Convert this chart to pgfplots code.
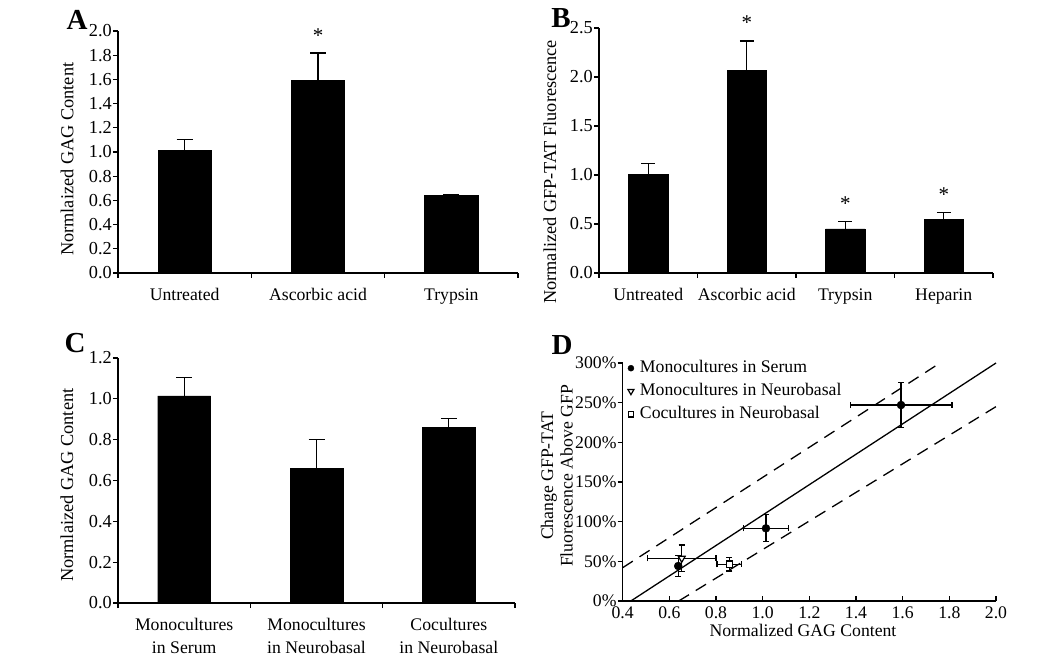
\documentclass[border=0pt]{standalone}
\usepackage{fontspec}
\setmainfont{Liberation Serif}
\usepackage{pgfplots}
\pgfplotsset{compat=1.18}
\usepackage{pgfplotstable}

\newcommand\fs{\fontsize{17.7}{23}\selectfont}
\newcommand\fl{\fontsize{18.3}{23}\selectfont}

\pgfplotstableread{
x y e
0 1.012 0.094
1 1.593 0.225
2 0.641 0.011
}\dataA
\pgfplotstableread{
x y e
0 1.006 0.113
1 2.067 0.300
2 0.450 0.072
3 0.546 0.071
}\dataB
\pgfplotstableread{
x y e
0 1.015 0.088
1 0.658 0.141
2 0.861 0.044
}\dataC
\pgfplotstableread{
x y ex ey
0.638 44.1 0.010 13.5
1.014 91.6 0.097 17.0
1.593 247.0 0.218 28.5
}\dataDa
\pgfplotstableread{
x y ex ey
0.653 53.8 0.147 16.8
}\dataDb
\pgfplotstableread{
x y ex ey
0.857 46.3 0.053 8.5
}\dataDc

\pgfplotsset{
  base/.style={
    scale only axis, anchor=south west, axis lines*=left,
    axis line style={line width=1.2pt},
    tick style={line width=1.2pt, black},
    tick label style={font=\fs},
    label style={font=\fl},
    /pgf/number format/assume math mode=true,
    clip=false,
  },
  bars/.style={
    base, ymin=0, tick align=outside,
    major tick length=5pt, minor tick length=5pt,
    every major x tick/.append style={draw=none},
    xtick={0,1,2,3}, minor xtick={-0.5,0.5,1.5,2.5,3.5},
    yticklabel style={/pgf/number format/fixed, /pgf/number format/fixed zerofill, /pgf/number format/precision=1, inner xsep=1pt, font=\fontsize{18.3}{22}\selectfont},
    xticklabel style={align=center, yshift=-7pt},
  },
  barplot/.style={ybar, bar width=0.4, fill=black, draw=black,
    error bars/.cd, y dir=plus, y explicit,
    error bar style={line width=1.2pt},
    error mark options={rotate=90, mark size=8pt, line width=1.2pt}},
}

\begin{document}
\begin{tikzpicture}
\path[use as bounding box] (0pt,0pt) rectangle (1050pt,659pt);

% Panel A
\begin{axis}[bars, at={(118pt,386pt)}, width=400pt, height=242pt,
  xmin=-0.5, xmax=2.5, ymax=2.0, ytick={0,0.2,...,2.0},
  xticklabels={Untreated, Ascorbic acid, Trypsin},
  ylabel={Normlaized GAG Content},
  ylabel style={at={(axis description cs:-0.1275,0.47)}, anchor=center}]
\addplot[barplot] table[x=x, y=y, y error=e]{\dataA};
\node[font=\fontsize{21}{21}\selectfont] at (axis cs:1,1.96) {*};
\end{axis}

% Panel B
\begin{axis}[bars, at={(599pt,386pt)}, width=394pt, height=245pt,
  xmin=-0.5, xmax=3.5, ymax=2.5, ytick={0,0.5,...,2.5},
  xticklabels={Untreated, Ascorbic acid, Trypsin, Heparin},
  ylabel={Normalized GFP-TAT Fluorescence},
  ylabel style={at={(axis description cs:-0.1244,0.413)}, anchor=center}]
\addplot[barplot, error mark options={rotate=90, mark size=7pt, line width=1.2pt}] table[x=x, y=y, y error=e]{\dataB};
\node[font=\fontsize{21}{21}\selectfont] at (axis cs:1,2.55) {*};
\node[font=\fontsize{21}{21}\selectfont] at (axis cs:2,0.71) {*};
\node[font=\fontsize{21}{21}\selectfont] at (axis cs:3,0.80) {*};
\end{axis}

% Panel C
\begin{axis}[bars, at={(118pt,56pt)}, width=397pt, height=245pt,
  xmin=-0.5, xmax=2.5, ymax=1.2, ytick={0,0.2,...,1.2},
  xticklabels={Monocultures\\in Serum, Monocultures\\in Neurobasal, Cocultures\\in Neurobasal},
  ylabel={Normlaized GAG Content},
  ylabel style={at={(axis description cs:-0.1285,0.481)}, anchor=center}]
\addplot[barplot] table[x=x, y=y, y error=e]{\dataC};
\end{axis}

% Panel D
\begin{axis}[base, at={(622.7pt,58pt)}, width=373.3pt, height=238pt,
  xmin=0.4, xmax=2.0, ymin=0, ymax=300,
  xtick={0.4,0.6,...,2.0}, ytick={0,50,...,300},
  xtick align=inside, ytick align=outside, major tick length=5pt,
  xticklabel style={/pgf/number format/fixed, /pgf/number format/fixed zerofill, /pgf/number format/precision=1, yshift=-2pt},
  yticklabel={\pgfmathprintnumber{\tick}\%},
  yticklabel style={inner xsep=1pt},
  xlabel={Normalized GAG Content},
  xlabel style={at={(axis description cs:0.483,0)}, yshift=-29pt, anchor=center, font=\fs},
  ylabel={Change GFP-TAT\\Fluorescence Above GFP},
  ylabel style={align=center, at={(axis description cs:-0.1768,0.525)}, anchor=center, font=\fontsize{17.7}{19.5}\selectfont},
  legend style={draw=none, fill=none, at={(axis description cs:0,1)}, anchor=north west, xshift=5pt, yshift=4pt, font=\fs, row sep=5pt, column sep=3pt, inner sep=0pt,
    nodes={text height=12pt, text depth=4pt, inner sep=1pt, inner xsep=3pt}},
  legend cell align=left]
\addplot[forget plot, black, line width=1.3pt] coordinates {(0.435,0) (2.0,300)};
\addplot[forget plot, black, line width=1.3pt, dash pattern=on 12pt off 8pt] coordinates {(0.4,42) (1.76,300)};
\addplot[forget plot, black, line width=1.3pt, dash pattern=on 12pt off 8pt] coordinates {(0.64,0) (2.0,245)};
\addplot[only marks, black, mark=*, mark size=4pt,
  legend image post style={mark size=3pt},
  error bars/.cd, x dir=both, x explicit, y dir=both, y explicit,
  error bar style={line width=1.3pt},
  error mark options={rotate=90, mark size=3pt, line width=1.3pt}]
  table[x=x, y=y, x error=ex, y error=ey]{\dataDa};
\addlegendentry{Monocultures in Serum}
\addplot[only marks, black, mark=triangle*, mark options={rotate=180, fill=white, line width=1.2pt}, mark size=4pt,
  legend image post style={mark size=3.5pt},
  error bars/.cd, x dir=both, x explicit, y dir=both, y explicit,
  error bar style={line width=1.3pt},
  error mark options={rotate=90, mark size=3pt, line width=1.3pt}]
  table[x=x, y=y, x error=ex, y error=ey]{\dataDb};
\addlegendentry{Monocultures in Neurobasal}
\addplot[only marks, black, mark=square*, mark options={fill=white, line width=1.2pt}, mark size=3.2pt,
  legend image post style={mark size=2.8pt},
  error bars/.cd, x dir=both, x explicit, y dir=both, y explicit,
  error bar style={line width=1.3pt},
  error mark options={rotate=90, mark size=3pt, line width=1.3pt}]
  table[x=x, y=y, x error=ex, y error=ey]{\dataDc};
\addlegendentry{Cocultures in Neurobasal}
\end{axis}

\node[font=\bfseries\fontsize{29}{29}\selectfont] at (77pt,639pt) {A};
\node[font=\bfseries\fontsize{29}{29}\selectfont] at (561pt,641pt) {B};
\node[font=\bfseries\fontsize{29}{29}\selectfont] at (75pt,316pt) {C};
\node[font=\bfseries\fontsize{29}{29}\selectfont] at (562pt,314pt) {D};
\end{tikzpicture}
\end{document}
